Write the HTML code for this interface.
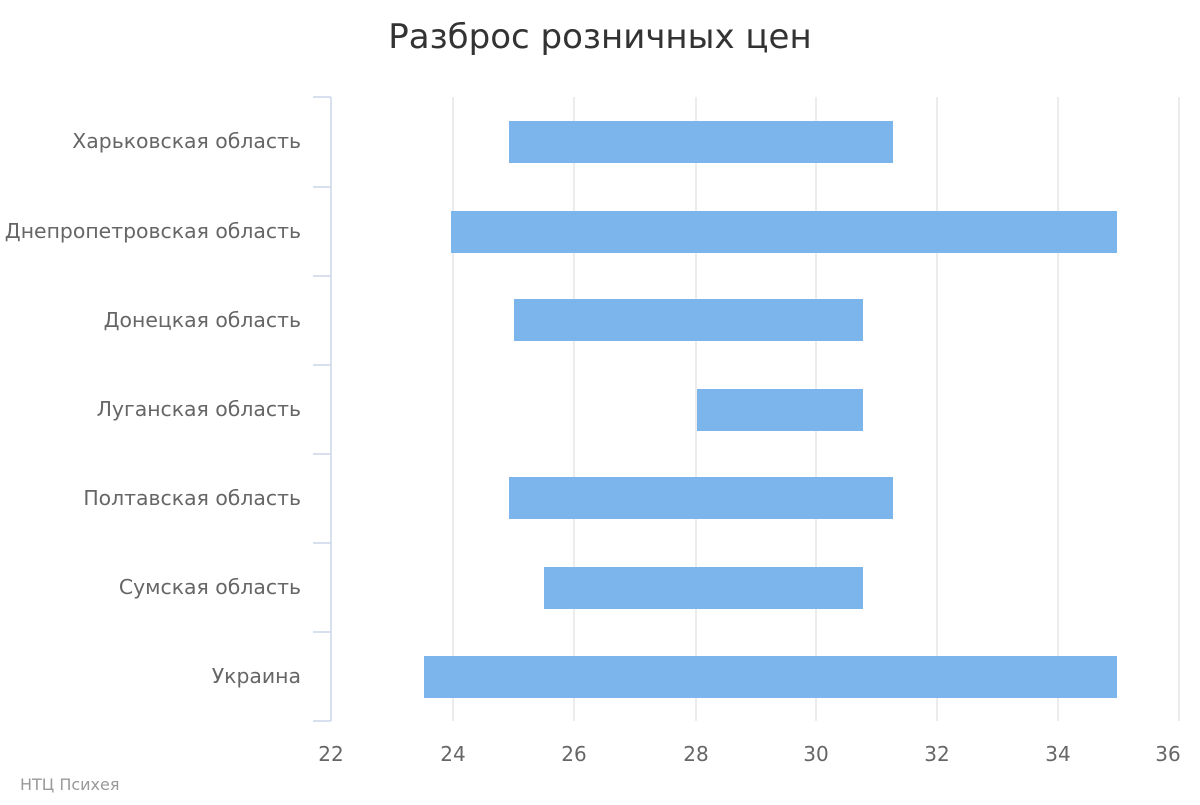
<!DOCTYPE html>
<html><head><meta charset="utf-8"><style>
body{margin:0;background:#fff;}
</style></head><body>
<svg width="1200" height="800" xmlns="http://www.w3.org/2000/svg" font-family="DejaVu Sans, Liberation Sans, sans-serif">
<rect width="1200" height="800" fill="#fff"/>
<text x="600" y="48" text-anchor="middle" font-size="34" fill="#333">Разброс розничных цен</text>
<g stroke="#e6e6e6" stroke-width="1.5">
<line x1="453" y1="97" x2="453" y2="721"/>
<line x1="574" y1="97" x2="574" y2="721"/>
<line x1="696" y1="97" x2="696" y2="721"/>
<line x1="816" y1="97" x2="816" y2="721"/>
<line x1="937" y1="97" x2="937" y2="721"/>
<line x1="1058" y1="97" x2="1058" y2="721"/>
<line x1="1179" y1="97" x2="1179" y2="721"/>
</g>
<g fill="#7cb5ec">
<rect x="509" y="121" width="384" height="42"/>
<rect x="451" y="211" width="666" height="42"/>
<rect x="514" y="299" width="349" height="42"/>
<rect x="697" y="389" width="166" height="42"/>
<rect x="509" y="477" width="384" height="42"/>
<rect x="544" y="567" width="319" height="42"/>
<rect x="424" y="656" width="693" height="42"/>
</g>
<g stroke="#ccd6eb" stroke-width="1.5">
<line x1="331" y1="97" x2="331" y2="721"/>
<line x1="313" y1="97" x2="331" y2="97"/>
<line x1="313" y1="187" x2="331" y2="187"/>
<line x1="313" y1="276" x2="331" y2="276"/>
<line x1="313" y1="365" x2="331" y2="365"/>
<line x1="313" y1="454" x2="331" y2="454"/>
<line x1="313" y1="543" x2="331" y2="543"/>
<line x1="313" y1="632" x2="331" y2="632"/>
<line x1="313" y1="721" x2="331" y2="721"/>
</g>
<g font-size="20.4" fill="#666" text-anchor="end">
<text x="301" y="148">Харьковская область</text>
<text x="301" y="238">Днепропетровская область</text>
<text x="301" y="327">Донецкая область</text>
<text x="301" y="416">Луганская область</text>
<text x="301" y="505">Полтавская область</text>
<text x="301" y="594">Сумская область</text>
<text x="301" y="683">Украина</text>
</g>
<g font-size="20" fill="#666" text-anchor="middle">
<text x="331" y="761">22</text>
<text x="453" y="761">24</text>
<text x="574" y="761">26</text>
<text x="696" y="761">28</text>
<text x="816" y="761">30</text>
<text x="937" y="761">32</text>
<text x="1058" y="761">34</text>
<text x="1168" y="761">36</text>
</g>
<text x="20" y="790" font-size="16" fill="#999">НТЦ Психея</text>
</svg>
</body></html>
